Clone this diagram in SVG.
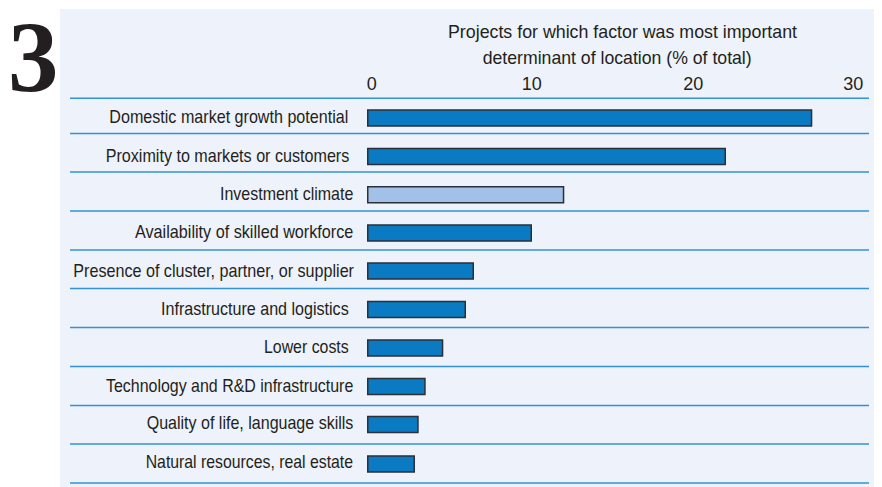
<svg xmlns="http://www.w3.org/2000/svg" width="882" height="487" viewBox="0 0 882 487">
<style>
.lbl{font-family:"Liberation Sans",Arial,sans-serif;font-size:18.5px;fill:#231f20}
.tick{font-family:"Liberation Sans",Arial,sans-serif;font-size:18px;fill:#231f20;text-anchor:middle}
.rule{stroke:#3391d5;stroke-width:1.5}
.bar{fill:#0a7bc2;stroke:#2b2f38;stroke-width:1.5}
.bar.light{fill:#a3c1e6}
</style>
<rect x="0" y="0" width="882" height="487" fill="#ffffff"/>
<rect x="60" y="9" width="814" height="478" fill="#eef2fa"/>
<text x="8" y="92" font-family="Liberation Serif,serif" font-size="101" font-weight="bold" fill="#231f20">3</text>
<g id="title">
<text class="lbl" x="448" y="37.5" textLength="349" lengthAdjust="spacingAndGlyphs">Projects for which factor was most important</text>
<text class="lbl" x="482.7" y="63.5" textLength="269" lengthAdjust="spacingAndGlyphs">determinant of location (% of total)</text>
</g>
<g id="axis">
<text class="tick" x="371.7" y="90">0</text>
<text class="tick" x="531.7" y="90">10</text>
<text class="tick" x="693.3" y="90">20</text>
<text class="tick" x="853.3" y="90">30</text>
</g>
<g id="rules">
<line class="rule" x1="70" y1="98.3" x2="869" y2="98.3"/>
<line class="rule" x1="70" y1="133.5" x2="869" y2="133.5"/>
<line class="rule" x1="70" y1="172" x2="869" y2="172"/>
<line class="rule" x1="70" y1="211" x2="869" y2="211"/>
<line class="rule" x1="70" y1="250" x2="869" y2="250"/>
<line class="rule" x1="70" y1="288.5" x2="869" y2="288.5"/>
<line class="rule" x1="70" y1="327.5" x2="869" y2="327.5"/>
<line class="rule" x1="70" y1="366.5" x2="869" y2="366.5"/>
<line class="rule" x1="70" y1="405.5" x2="869" y2="405.5"/>
<line class="rule" x1="70" y1="444" x2="869" y2="444"/>
<line class="rule" x1="70" y1="483" x2="869" y2="483"/>
</g>
<g id="row1">
<text class="lbl" x="109.3" y="123.3" textLength="239" lengthAdjust="spacingAndGlyphs">Domestic market growth potential</text>
<rect class="bar" x="367.75" y="110" width="443.8" height="16"/>
</g>
<g id="row2">
<text class="lbl" x="105.7" y="162" textLength="243.6" lengthAdjust="spacingAndGlyphs">Proximity to markets or customers</text>
<rect class="bar" x="367.75" y="148.5" width="357.5" height="16"/>
</g>
<g id="row3">
<text class="lbl" x="220" y="200" textLength="133.3" lengthAdjust="spacingAndGlyphs">Investment climate</text>
<rect class="bar light" x="367.75" y="186.75" width="195.8" height="16"/>
</g>
<g id="row4">
<text class="lbl" x="135" y="238.3" textLength="218.3" lengthAdjust="spacingAndGlyphs">Availability of skilled workforce</text>
<rect class="bar" x="367.75" y="225" width="163.5" height="16"/>
</g>
<g id="row5">
<text class="lbl" x="73.3" y="276.7" textLength="280.7" lengthAdjust="spacingAndGlyphs">Presence of cluster, partner, or supplier</text>
<rect class="bar" x="367.75" y="263" width="105.5" height="16"/>
</g>
<g id="row6">
<text class="lbl" x="161" y="315" textLength="187.7" lengthAdjust="spacingAndGlyphs">Infrastructure and logistics</text>
<rect class="bar" x="367.75" y="301.5" width="97.5" height="16"/>
</g>
<g id="row7">
<text class="lbl" x="264" y="353.3" textLength="84.7" lengthAdjust="spacingAndGlyphs">Lower costs</text>
<rect class="bar" x="367.75" y="340" width="74.8" height="16"/>
</g>
<g id="row8">
<text class="lbl" x="106" y="391.7" textLength="247.3" lengthAdjust="spacingAndGlyphs">Technology and R&amp;D infrastructure</text>
<rect class="bar" x="367.75" y="378.5" width="57.2" height="16"/>
</g>
<g id="row9">
<text class="lbl" x="146.7" y="429.3" textLength="206.7" lengthAdjust="spacingAndGlyphs">Quality of life, language skills</text>
<rect class="bar" x="367.75" y="416.5" width="50.2" height="16"/>
</g>
<g id="row10">
<text class="lbl" x="145.7" y="468.3" textLength="207.3" lengthAdjust="spacingAndGlyphs">Natural resources, real estate</text>
<rect class="bar" x="367.75" y="456" width="46.5" height="16"/>
</g>
</svg>
